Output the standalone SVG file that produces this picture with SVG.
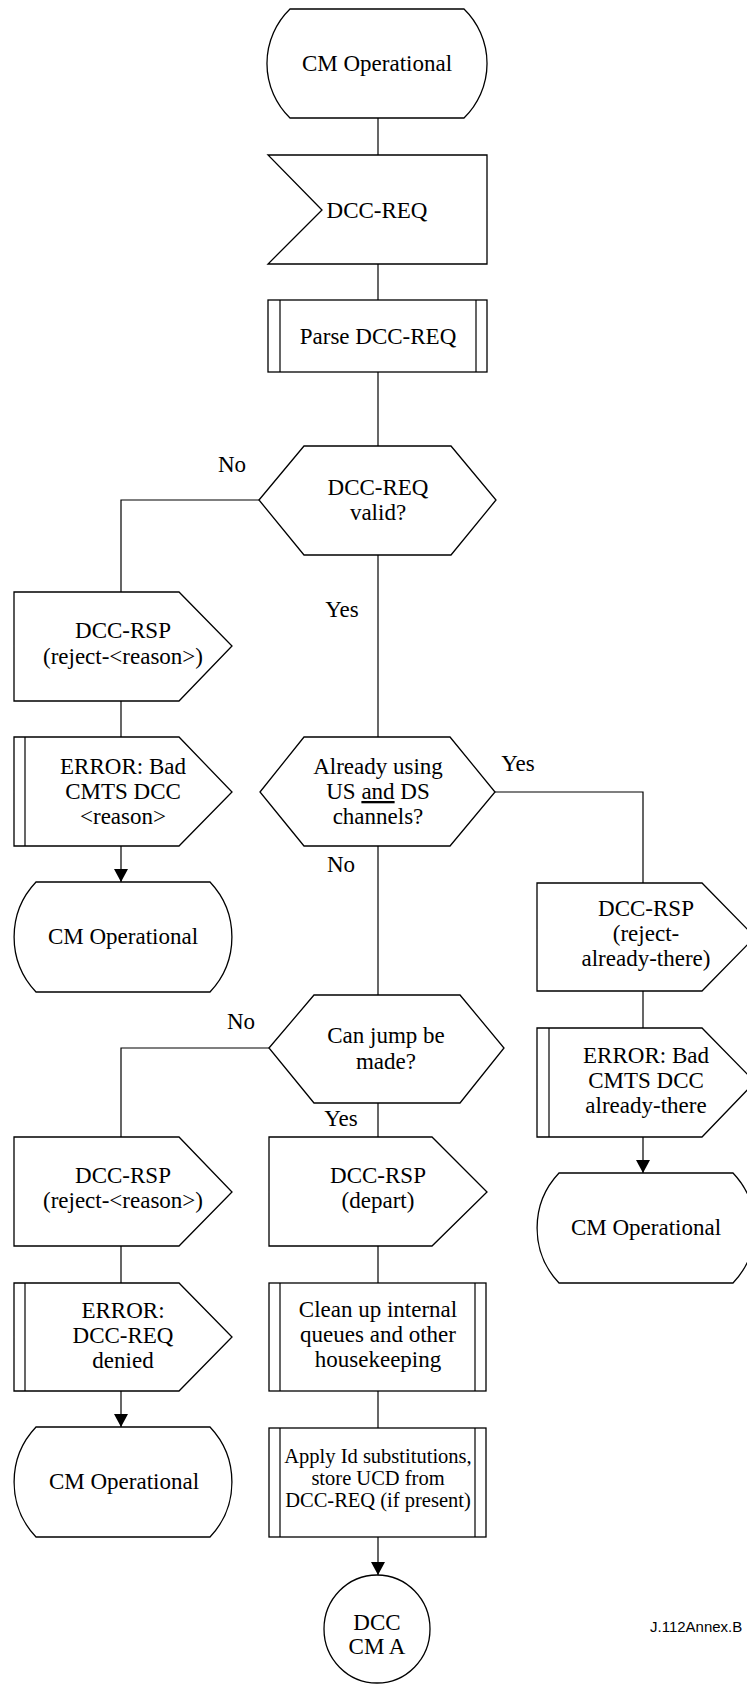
<svg xmlns="http://www.w3.org/2000/svg" width="747" height="1685" viewBox="0 0 747 1685">
<style>
.s{fill:#fff;stroke:#000;stroke-width:1.3}
.c{fill:none;stroke:#000;stroke-width:1.2}
.t{font-family:"Liberation Serif","Times New Roman",serif;font-size:23px;text-anchor:middle;fill:#000}
.sm{font-size:20.5px}
.lab{font-family:"Liberation Serif","Times New Roman",serif;font-size:23px;text-anchor:middle;fill:#000}
.id{font-family:"Liberation Sans",Arial,sans-serif;font-size:15px;fill:#000}
</style>
<defs>
<marker id="ah" markerUnits="userSpaceOnUse" markerWidth="14" markerHeight="14" refX="13" refY="7" orient="auto">
<path d="M0,0 L13,7 L0,14 Z" fill="#000"/>
</marker>
</defs>
<rect width="747" height="1685" fill="#fff"/>

<g id="connectors">
<path class="c" d="M378,118 V155"/>
<path class="c" d="M378,264 V300"/>
<path class="c" d="M378,372 V446"/>
<path class="c" d="M378,555 V737"/>
<path class="c" d="M378,846 V995"/>
<path class="c" d="M378,1103 V1137"/>
<path class="c" d="M378,1246 V1283"/>
<path class="c" d="M378,1391 V1428"/>
<path class="c" d="M378,1537 V1575" marker-end="url(#ah)"/>
<path class="c" d="M259,500 H121 V592"/>
<path class="c" d="M121,701 V737"/>
<path class="c" d="M121,846 V882" marker-end="url(#ah)"/>
<path class="c" d="M495,792 H643 V883"/>
<path class="c" d="M643,991 V1028"/>
<path class="c" d="M643,1137 V1173" marker-end="url(#ah)"/>
<path class="c" d="M269,1048 H121 V1137"/>
<path class="c" d="M121,1246 V1283"/>
<path class="c" d="M121,1391 V1427" marker-end="url(#ah)"/>
<text class="lab" x="232" y="472">No</text>
<text class="lab" x="342" y="617">Yes</text>
<text class="lab" x="518" y="771">Yes</text>
<text class="lab" x="341" y="872">No</text>
<text class="lab" x="241" y="1029">No</text>
<text class="lab" x="341" y="1126">Yes</text>
</g>

<g id="start">
<path class="s" d="M290,9 L464,9 A76,76 0 0 1 464,118 L290,118 A76,76 0 0 1 290,9 Z"/>
<text class="t" x="377" y="71">CM Operational</text>
</g>

<g id="dccreq-in">
<path class="s" d="M268,155 L487,155 L487,264 L268,264 L322,210 Z"/>
<text class="t" x="377" y="218">DCC-REQ</text>
</g>

<g id="parse">
<rect class="s" x="268" y="300" width="219" height="72"/>
<path class="c" d="M280,300 V372 M476,300 V372"/>
<text class="t" x="378" y="344">Parse DCC-REQ</text>
</g>

<g id="dec-valid">
<path class="s" d="M259,500 L304,446 L451,446 L496,500 L451,555 L304,555 Z"/>
<text class="t" x="378" y="495">DCC-REQ</text>
<text class="t" x="378" y="520">valid?</text>
</g>

<g id="rsp-reject1">
<path class="s" d="M14,592 L179,592 L232,646 L179,701 L14,701 Z"/>
<text class="t" x="123" y="638">DCC-RSP</text>
<text class="t" x="123" y="664">(reject-&lt;reason&gt;)</text>
</g>

<g id="err-bad-reason">
<path class="s" d="M14,737 L179,737 L232,792 L179,846 L14,846 Z"/>
<path class="c" d="M25,737 V846"/>
<text class="t" x="123" y="774">ERROR: Bad</text>
<text class="t" x="123" y="799">CMTS DCC</text>
<text class="t" x="123" y="824">&lt;reason&gt;</text>
</g>

<g id="cmop1">
<path class="s" d="M36,882 L210,882 A80,80 0 0 1 210,992 L36,992 A80,80 0 0 1 36,882 Z"/>
<text class="t" x="123" y="944">CM Operational</text>
</g>

<g id="dec-already">
<path class="s" d="M260,792 L304,737 L450,737 L495,792 L450,846 L304,846 Z"/>
<text class="t" x="378" y="774">Already using</text>
<text class="t" x="378" y="799">US <tspan text-decoration="underline">and</tspan> DS</text>
<text class="t" x="378" y="824">channels?</text>
</g>

<g id="rsp-already">
<path class="s" d="M537,883 L702,883 L755,937 L702,991 L537,991 Z"/>
<text class="t" x="646" y="916">DCC-RSP</text>
<text class="t" x="646" y="941">(reject-</text>
<text class="t" x="646" y="966">already-there)</text>
</g>

<g id="err-already">
<path class="s" d="M537,1028 L702,1028 L755,1082 L702,1137 L537,1137 Z"/>
<path class="c" d="M549,1028 V1137"/>
<text class="t" x="646" y="1063">ERROR: Bad</text>
<text class="t" x="646" y="1088">CMTS DCC</text>
<text class="t" x="646" y="1113">already-there</text>
</g>

<g id="cmop-right">
<path class="s" d="M559,1173 L733,1173 A80,80 0 0 1 733,1283 L559,1283 A80,80 0 0 1 559,1173 Z"/>
<text class="t" x="646" y="1235">CM Operational</text>
</g>

<g id="dec-jump">
<path class="s" d="M269,1048 L314,995 L460,995 L504,1048 L460,1103 L314,1103 Z"/>
<text class="t" x="386" y="1043">Can jump be</text>
<text class="t" x="386" y="1069">made?</text>
</g>

<g id="rsp-reject2">
<path class="s" d="M14,1137 L179,1137 L232,1192 L179,1246 L14,1246 Z"/>
<text class="t" x="123" y="1183">DCC-RSP</text>
<text class="t" x="123" y="1208">(reject-&lt;reason&gt;)</text>
</g>

<g id="rsp-depart">
<path class="s" d="M269,1137 L432,1137 L487,1192 L432,1246 L269,1246 Z"/>
<text class="t" x="378" y="1183">DCC-RSP</text>
<text class="t" x="378" y="1208">(depart)</text>
</g>

<g id="err-denied">
<path class="s" d="M14,1283 L179,1283 L232,1337 L179,1391 L14,1391 Z"/>
<path class="c" d="M25,1283 V1391"/>
<text class="t" x="123" y="1318">ERROR:</text>
<text class="t" x="123" y="1343">DCC-REQ</text>
<text class="t" x="123" y="1368">denied</text>
</g>

<g id="cmop2">
<path class="s" d="M36,1427 L210,1427 A80,80 0 0 1 210,1537 L36,1537 A80,80 0 0 1 36,1427 Z"/>
<text class="t" x="124" y="1489">CM Operational</text>
</g>

<g id="cleanup">
<rect class="s" x="269" y="1283" width="217" height="108"/>
<path class="c" d="M280,1283 V1391 M475,1283 V1391"/>
<text class="t" x="378" y="1317">Clean up internal</text>
<text class="t" x="378" y="1342">queues and other</text>
<text class="t" x="378" y="1367">housekeeping</text>
</g>

<g id="apply">
<rect class="s" x="269" y="1428" width="217" height="109"/>
<path class="c" d="M280,1428 V1537 M475,1428 V1537"/>
<text class="t sm" x="378" y="1463">Apply Id substitutions,</text>
<text class="t sm" x="378" y="1485">store UCD from</text>
<text class="t sm" x="378" y="1507">DCC-REQ (if present)</text>
</g>

<g id="connector-a">
<ellipse class="s" cx="377" cy="1629" rx="53" ry="54"/>
<text class="t" x="377" y="1630">DCC</text>
<text class="t" x="377" y="1654">CM A</text>
</g>

<text class="id" x="650" y="1632">J.112Annex.B</text>
</svg>
